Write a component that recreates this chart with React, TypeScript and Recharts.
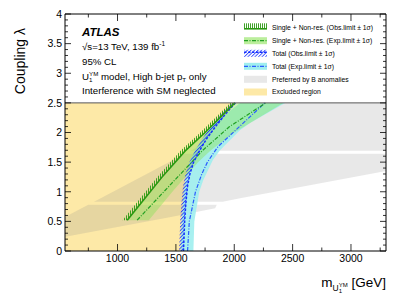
import React from "react"
import { ComposedChart, Area, Line, XAxis, YAxis } from "recharts"

const FONT = "'Liberation Sans', Arial, Helvetica, sans-serif"

const X_MIN = 550
const X_MAX = 3300
const LAM_TOP = 2.5

// [coupling, mass GeV]
const totalObs = [[0, 1565], [0.5, 1575], [0.8, 1585], [1.1, 1600], [1.3, 1620], [1.5, 1652], [1.7, 1705], [1.9, 1765], [2.1, 1840], [2.3, 1920], [2.5, 2010]]
const totalExp = [[0, 1600], [0.5, 1615], [1.0, 1668], [1.3, 1722], [1.5, 1770], [1.76, 1860], [2.04, 2012], [2.5, 2262]]
const singleObs = [[0.52, 1083], [1.25, 1382], [1.69, 1580], [2.0, 1750], [2.5, 2006]]
const singleExp = [[0.52, 1168], [0.97, 1382], [1.3, 1540], [1.7, 1730], [2.1, 1960], [2.5, 2270]]

// [coupling, mass low, mass high]
const totalExpBand = [[0, 1540, 1650], [0.5, 1550, 1658], [1.0, 1568, 1700], [1.2, 1580, 1735], [1.54, 1625, 1818], [1.7, 1665, 1878], [2.04, 1780, 2049], [2.16, 1830, 2135], [2.5, 2050, 2435]]
const singleExpBand = [[0.52, 1083, 1268], [1.0, 1290, 1470], [1.5, 1500, 1690], [1.7, 1585, 1800], [2.0, 1750, 2000], [2.5, 2010, 2420]]
const bAnomLow = [[0.24, 550, 553], [0.575, 550, 1458], [0.72, 692, 1836], [0.78, 750, 1850]]
const bAnomMid = [[0.83, 798, 1900], [0.89, 856, 2050], [1.35, 1298, 3300], [1.64, 1577, 3300]]
const bAnomTop = [[1.69, 1625, 3300], [2.5, 2404, 3300]]

const xMajor = [1000, 1500, 2000, 2500, 3000]
const xTicks = [750, 1000, 1250, 1500, 1750, 2000, 2250, 2500, 2750, 3000, 3250]
const yMajor = [0, 0.5, 1, 1.5, 2, 2.5, 3, 3.5, 4]
const yTicks = Array.from({ length: 41 }, (_, i) => i / 10)

// hatch widths of the observed-limit lines (GeV)
const GREEN_HATCH = 40
const BLUE_HATCH = 38

const pts = (a: number[][]) => a.map(([lam, m]) => ({ lam, m }))
const band = (a: number[][]) => a.map(([lam, lo, hi]) => ({ lam, range: [lo, hi] }))

const excluded = totalObs.map(([lam, m]) => ({ lam, range: [X_MIN, m] }))
const greenHatch = singleObs.map(([lam, m]) => ({ lam, range: [m - GREEN_HATCH, m] }))
const blueHatch = totalObs.map(([lam, m]) => ({ lam, range: [m - BLUE_HATCH, m] }))
const topLine = [{ lam: LAM_TOP, m: X_MIN }, { lam: LAM_TOP, m: X_MAX }]

const GREEN = "#2b9a12"
const GREEN_EXP = "#22a022"
const BLUE = "#1530ff"
const BLUE_EXP = "#2a5cff"
const YELLOW = "#fde9a7"
const CYAN = "#9feeee"
const LIGHT_GREEN = "#8ee35a"
const GRAY = "#8a8a8a"
const GRAY_OPACITY = 0.2

const fmt = (v: number) => String(v)

function makeTick(side: "left" | "right" | "bottom" | "top") {
  return (props: any) => {
    const { x, y, payload } = props
    const v = payload.value
    if (side === "left" || side === "right") {
      const major = yMajor.includes(v)
      const len = major ? 6 : 3
      const dir = side === "left" ? 1 : -1
      return (
        <g>
          <line x1={x} x2={x + dir * len} y1={y} y2={y} stroke="#000" strokeWidth={0.8} />
          {side === "left" && major && (
            <text x={x - 3} y={y + 3.8} textAnchor="end" fontSize={10.5} fontFamily={FONT} fill="#000">
              {fmt(v)}
            </text>
          )}
        </g>
      )
    }
    const major = xMajor.includes(v)
    const len = major ? 7 : 3.5
    const dir = side === "bottom" ? -1 : 1
    return (
      <g>
        <line x1={x} x2={x} y1={y} y2={y + dir * len} stroke="#000" strokeWidth={0.8} />
        {side === "bottom" && major && (
          <text x={x} y={y + 10.5} textAnchor="middle" fontSize={10.5} fontFamily={FONT} fill="#000">
            {fmt(v)}
          </text>
        )}
      </g>
    )
  }
}

function Overlay() {
  const rows = [27.3, 40.7, 53.3, 66.3, 79.3, 92]
  const sx = 244
  const sw = 23
  const tx = 272
  const labels = [
    "Single + Non-res. (Obs.limit \u00b1 1\u03c3)",
    "Single + Non-res. (Exp.limit \u00b1 1\u03c3)",
    "Total (Obs.limit \u00b1 1\u03c3)",
    "Total (Exp.limit \u00b1 1\u03c3)",
    "Preferred by B anomalies",
    "Excluded region",
  ]
  return (
    <svg width={407} height={299} style={{ position: "absolute", left: 0, top: 0, pointerEvents: "none" }}>
      <defs>
        <pattern id="greenHatch" width={2} height={10} patternUnits="userSpaceOnUse">
          <line x1={0.5} x2={0.5} y1={0} y2={10} stroke={GREEN} strokeWidth={0.9} />
        </pattern>
        <pattern id="blueHatch" width={2.5} height={2.5} patternUnits="userSpaceOnUse" patternTransform="rotate(45)">
          <line x1={0.5} x2={0.5} y1={0} y2={2.5} stroke={BLUE} strokeWidth={0.8} />
        </pattern>
      </defs>

      {/* legend */}
      <rect x={sx} y={rows[0] - 4} width={sw} height={5.5} fill="url(#greenHatch)" />
      <line x1={sx} x2={sx + sw} y1={rows[0] + 1.5} y2={rows[0] + 1.5} stroke={GREEN} strokeWidth={1.6} />

      <rect x={sx} y={rows[1] - 3.5} width={sw} height={7} fill={LIGHT_GREEN} fillOpacity={0.6} />
      <line x1={sx} x2={sx + sw} y1={rows[1]} y2={rows[1]} stroke={GREEN_EXP} strokeWidth={1.2} strokeDasharray="4 1.5 1 1.5" />

      <rect x={sx} y={rows[2] - 3.5} width={sw} height={7} fill="url(#blueHatch)" />
      <line x1={sx} x2={sx + sw} y1={rows[2] - 1} y2={rows[2] - 1} stroke={BLUE} strokeWidth={1.4} strokeDasharray="2.5 1.5" />

      <rect x={sx} y={rows[3] - 3.5} width={sw} height={7} fill={CYAN} />
      <line x1={sx} x2={sx + sw} y1={rows[3]} y2={rows[3]} stroke={BLUE_EXP} strokeWidth={1.2} strokeDasharray="4 1.5 1 1.5" />

      <rect x={sx} y={rows[4] - 3.5} width={sw} height={7} fill={GRAY} fillOpacity={GRAY_OPACITY} />
      <rect x={sx} y={rows[5] - 3.5} width={sw} height={7} fill={YELLOW} />

      {labels.map((t, i) => (
        <text key={t} x={tx} y={rows[i] + 2.4} fontSize={6.8} fontFamily={FONT} fill="#000">
          {t}
        </text>
      ))}

      {/* annotations */}
      <g fontFamily={FONT} fill="#000">
        <text x={82} y={36} fontSize={11.5} fontWeight="bold" fontStyle="italic">ATLAS</text>
        <text x={82} y={49.5} fontSize={9.7}>
          {"\u221as=13 TeV, 139 fb"}
          <tspan fontSize={6.5} dy={-4}>-1</tspan>
        </text>
        <text x={82} y={65} fontSize={9.7}>95% CL</text>
        <text x={82} y={79.5} fontSize={9.7}>
          U
          <tspan fontSize={6.2} dy={2.5}>1</tspan>
          <tspan fontSize={6.2} dx={-3.4} dy={-6.5}>YM</tspan>
          <tspan dy={4}> model, High b-jet p</tspan>
          <tspan fontSize={6.2} dy={2.5}>T</tspan>
          <tspan dy={-2.5}> only</tspan>
        </text>
        <text x={82} y={94} fontSize={9.7}>Interference with SM neglected</text>

        <text x={386} y={287} fontSize={13.5} textAnchor="end">
          m
          <tspan fontSize={8.5} dy={4}>U</tspan>
          <tspan fontSize={6} dy={2}>1</tspan>
          <tspan fontSize={6} dx={-3.3} dy={-6.5}>YM</tspan>
          <tspan dy={0.5}> [GeV]</tspan>
        </text>
        <text x={24.5} y={28} fontSize={14} textAnchor="end" transform="rotate(-90 24.5 28)">
          Coupling {"\u03bb"}
        </text>
      </g>
    </svg>
  )
}

const axisLine = { stroke: "#000", strokeWidth: 1 }

export default function App() {
  return (
    <div style={{ position: "absolute", left: 0, top: 0, width: 407, height: 299, background: "#fff" }}>
      <ComposedChart width={407} height={299} layout="vertical" margin={{ top: 0, right: 0, bottom: 0, left: 0 }}>
        <XAxis
          type="number"
          domain={[X_MIN, X_MAX]}
          allowDataOverflow
          ticks={xTicks}
          interval={0}
          height={48}
          tickSize={0}
          tickMargin={0}
          tick={makeTick("bottom")}
          axisLine={axisLine}
          tickLine={false}
        />
        <XAxis
          xAxisId="top"
          orientation="top"
          type="number"
          domain={[X_MIN, X_MAX]}
          allowDataOverflow
          ticks={xTicks}
          interval={0}
          height={14}
          tickSize={0}
          tickMargin={0}
          tick={makeTick("top")}
          axisLine={axisLine}
          tickLine={false}
        />
        <YAxis
          type="number"
          dataKey="lam"
          domain={[0, 4]}
          allowDataOverflow
          reversed
          ticks={yTicks}
          interval={0}
          width={65}
          tickSize={0}
          tickMargin={0}
          tick={makeTick("left")}
          axisLine={axisLine}
          tickLine={false}
        />
        <YAxis
          yAxisId="right"
          orientation="right"
          type="number"
          dataKey="lam"
          domain={[0, 4]}
          allowDataOverflow
          reversed
          ticks={yTicks}
          interval={0}
          width={21}
          tickSize={0}
          tickMargin={0}
          tick={makeTick("right")}
          axisLine={axisLine}
          tickLine={false}
        />

        <Area data={excluded} dataKey="range" type="linear" stroke="none" fill={YELLOW} fillOpacity={1} isAnimationActive={false} />
        <Area data={band(bAnomLow)} dataKey="range" type="linear" stroke="none" fill={GRAY} fillOpacity={GRAY_OPACITY} isAnimationActive={false} />
        <Area data={band(bAnomMid)} dataKey="range" type="linear" stroke="none" fill={GRAY} fillOpacity={GRAY_OPACITY} isAnimationActive={false} />
        <Area data={band(bAnomTop)} dataKey="range" type="linear" stroke="none" fill={GRAY} fillOpacity={GRAY_OPACITY} isAnimationActive={false} />
        <Area data={band(totalExpBand)} dataKey="range" type="linear" stroke="none" fill={CYAN} fillOpacity={0.9} isAnimationActive={false} />
        <Area data={band(singleExpBand)} dataKey="range" type="linear" stroke="none" fill={LIGHT_GREEN} fillOpacity={0.45} isAnimationActive={false} />
        <Area data={blueHatch} dataKey="range" type="linear" stroke="none" fill="url(#blueHatch)" fillOpacity={1} isAnimationActive={false} />
        <Area data={greenHatch} dataKey="range" type="linear" stroke="none" fill="url(#greenHatch)" fillOpacity={1} isAnimationActive={false} />

        <Line data={pts(totalExp)} dataKey="m" type="linear" stroke={BLUE_EXP} strokeWidth={1.2} strokeDasharray="4 1.5 1 1.5" dot={false} activeDot={false} isAnimationActive={false} />
        <Line data={pts(singleExp)} dataKey="m" type="linear" stroke={GREEN_EXP} strokeWidth={1.2} strokeDasharray="4 1.5 1 1.5" dot={false} activeDot={false} isAnimationActive={false} />
        <Line data={pts(totalObs)} dataKey="m" type="linear" stroke={BLUE} strokeWidth={1.5} strokeDasharray="2.5 1.5" dot={false} activeDot={false} isAnimationActive={false} />
        <Line data={pts(singleObs)} dataKey="m" type="linear" stroke={GREEN} strokeWidth={1.6} dot={false} activeDot={false} isAnimationActive={false} />
        <Line data={topLine} dataKey="m" type="linear" stroke="#555" strokeWidth={1} dot={false} activeDot={false} isAnimationActive={false} />
      </ComposedChart>
      <Overlay />
    </div>
  )
}
